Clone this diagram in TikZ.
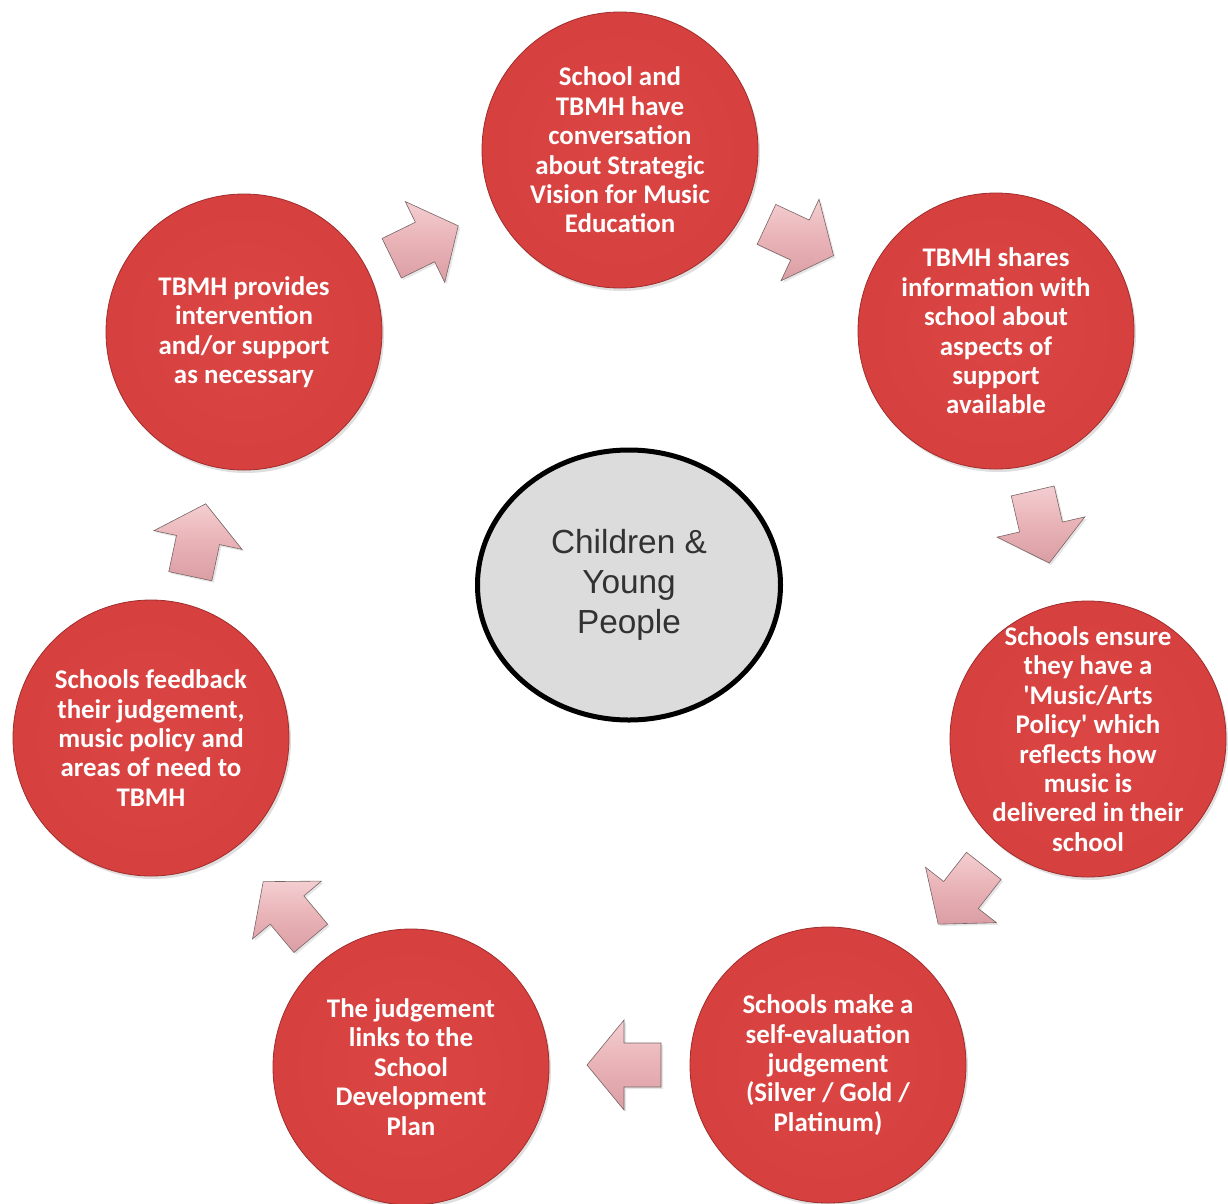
\documentclass[tikz,border=0pt]{standalone}
\usepackage{fontspec}
\setmainfont{Carlito}
\newfontfamily\stepfont{Carlito}[Ligatures=TeXOff]
\newfontfamily\hubfont{Liberation Sans}
\usetikzlibrary{shapes.geometric,shadows}

\definecolor{ballin}{RGB}{219,70,68}
\definecolor{ballmid}{RGB}{212,62,60}
\definecolor{ballout}{RGB}{186,42,42}
\definecolor{ballrim}{RGB}{160,45,45}
\definecolor{arrlight}{RGB}{244,206,209}
\definecolor{arrmid}{RGB}{232,178,182}
\definecolor{arrdark}{RGB}{218,158,164}
\definecolor{arredge}{RGB}{120,100,100}
\definecolor{hubfill}{RGB}{220,220,220}
\definecolor{hubtext}{RGB}{50,50,50}

% red ball: nearly flat centre, darker towards the rim
\pgfdeclareradialshading{redball}{\pgfpoint{0bp}{0bp}}{%
  color(0bp)=(ballin); color(32bp)=(ballmid); color(50bp)=(ballout)}

\tikzset{
  stage/.style={circle, minimum size=276bp, inner sep=0pt,
    shading=redball, draw=ballrim, line width=0.8bp,
    drop shadow={shadow xshift=2bp, shadow yshift=-3bp, opacity=0.25}},
  stagetext/.style={inner sep=0pt, text=white, align=center,
    font=\stepfont\bfseries\fontsize{27}{29.5}\selectfont},
  hub/.style={ellipse, minimum width=303bp, minimum height=270bp,
    inner sep=0pt, fill=hubfill, draw=black, line width=5bp,
    text=hubtext, align=center,
    font=\hubfont\fontsize{33.5}{40.5}\selectfont},
  arrowbody/.style={top color=arrlight, bottom color=arrdark,
    middle color=arrmid, draw=arredge, line width=0.6bp,
    drop shadow={shadow xshift=2bp, shadow yshift=-2bp, opacity=0.2}},
  blockarrow/.pic={
    \path[arrowbody] (-37,-22) -- (0,-22) -- (0,-45) -- (37,0)
      -- (0,45) -- (0,22) -- (-37,22) -- cycle;
    \coordinate (-c) at (0,0);
  }
}

\begin{document}
\begin{tikzpicture}[x=1bp,y=-1bp]
\useasboundingbox (0,0) rectangle (1228,1204);

% the seven stages of the cycle
\node[stage] (s1) at (620,150) {};
\node[stage] (s2) at (996,331) {};
\node[stage] (s3) at (1088,739) {};
\node[stage] (s4) at (828,1065) {};
\node[stage] (s5) at (411,1067) {};
\node[stage] (s6) at (151,738) {};
\node[stage] (s7) at (244,332) {};

\node[stagetext] (t1) at (s1)
  {School and\\TBMH have\\conversation\\about Strategic\\Vision for Music\\Education};
\node[stagetext] (t2) at (s2)
  {TBMH shares\\information with\\school about\\aspects of\\support\\available};
\node[stagetext] (t3) at (s3)
  {Schools ensure\\they have a\\'Music/Arts\\Policy' which\\reflects how\\music is\\delivered in their\\school};
\node[stagetext] (t4) at (s4)
  {Schools make a\\self-evaluation\\judgement\\(Silver / Gold /\\Platinum)};
\node[stagetext] (t5) at (s5)
  {The judgement\\links to the\\School\\Development\\Plan};
\node[stagetext] (t6) at (s6)
  {Schools feedback\\their judgement,\\music policy and\\areas of need to\\TBMH};
\node[stagetext] (t7) at (s7)
  {TBMH provides\\intervention\\and/or support\\as necessary};

% centre of the cycle
\node[hub] (hub) at (629,585) {Children \&\\Young\\People};

% block arrows between consecutive stages
\pic[rotate=26]   (a1) at (425,242)  {blockarrow};
\pic[rotate=-25]  (a2) at (800,240)  {blockarrow};
\pic[rotate=-77]  (a3) at (1041,527) {blockarrow};
\pic[rotate=-128] (a4) at (961,895)  {blockarrow};
\pic[rotate=180]  (a5) at (624,1065) {blockarrow};
\pic[rotate=130]  (a6) at (287,910)  {blockarrow};
\pic[rotate=78]   (a7) at (198,540)  {blockarrow};
\end{tikzpicture}
\end{document}
